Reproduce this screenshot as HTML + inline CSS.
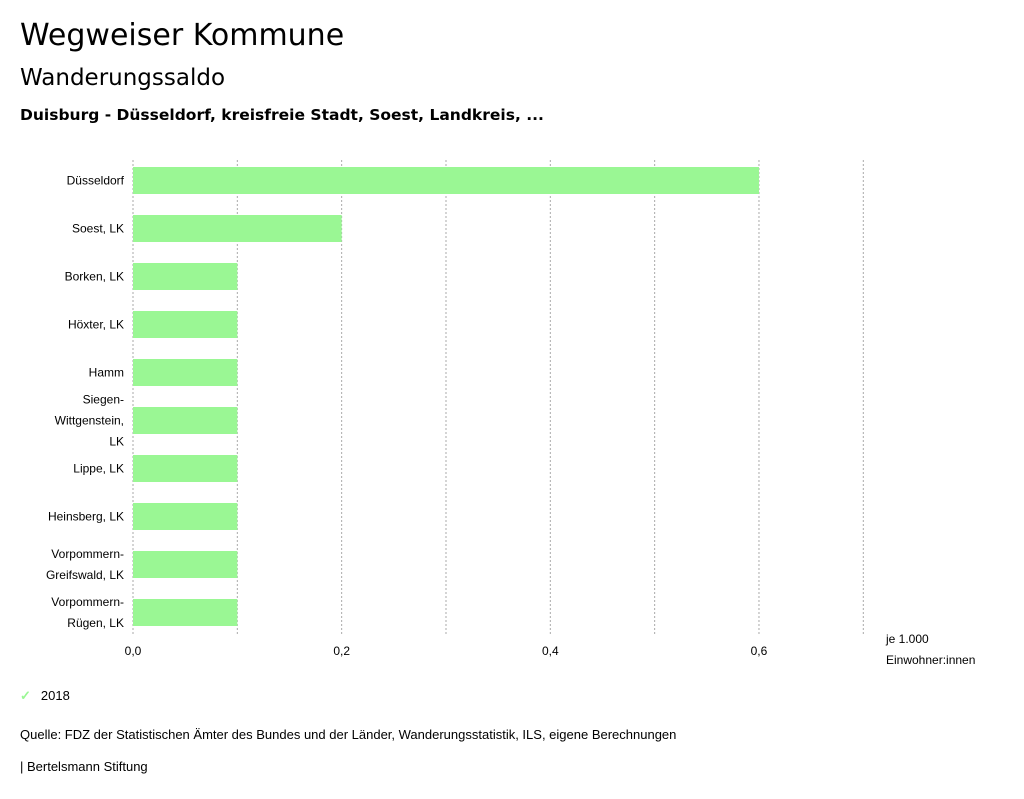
<!DOCTYPE html>
<html><head><meta charset="utf-8"><style>
body{margin:0;background:#fff;font-family:"Liberation Sans",sans-serif;color:#000;}
.wrap{position:relative;width:1024px;height:799px;overflow:hidden;}
.t{position:absolute;left:20px;white-space:nowrap;}
.dj{font-family:"DejaVu Sans",sans-serif;}
</style></head><body>
<div class="wrap">
<div class="t dj" style="top:18px;font-size:30px;">Wegweiser Kommune</div>
<div class="t dj" style="top:65px;font-size:23px;">Wanderungssaldo</div>
<div class="t dj" style="top:106px;font-size:15.5px;font-weight:bold;">Duisburg - Düsseldorf, kreisfreie Stadt, Soest, Landkreis, ...</div>
<svg id="chart" width="1024" height="680" style="position:absolute;left:0;top:0"></svg>
<div class="t" style="top:688px;font-size:13px;"><span style="color:#9af794;margin-right:10px;font-weight:bold;">✓</span>2018</div>
<div class="t" style="top:727px;font-size:13px;">Quelle: FDZ der Statistischen Ämter des Bundes und der Länder, Wanderungsstatistik, ILS, eigene Berechnungen</div>
<div class="t" style="top:759px;font-size:13px;">| Bertelsmann Stiftung</div>
</div>
<script>
const categories=[["Düsseldorf"],["Soest, LK"],["Borken, LK"],["Höxter, LK"],["Hamm"],["Siegen-","Wittgenstein,","LK"],["Lippe, LK"],["Heinsberg, LK"],["Vorpommern-","Greifswald, LK"],["Vorpommern-","Rügen, LK"]];
const values=[0.6,0.2,0.1,0.1,0.1,0.1,0.1,0.1,0.1,0.1];
const tickValues=[0,0.2,0.4,0.6];
const tickLabels=["0,0","0,2","0,4","0,6"];
const gridValues=[0,0.1,0.2,0.3,0.4,0.5,0.6,0.7];
const NS="http://www.w3.org/2000/svg",svg=document.getElementById("chart");
const x=v=>133+v*1043.3;
const yc=i=>180.5+i*48;
function mk(t,a){const e=document.createElementNS(NS,t);for(const k in a)e.setAttribute(k,a[k]);svg.appendChild(e);return e;}
gridValues.forEach(v=>{const l=mk("line",{x1:x(v),x2:x(v),y1:160,y2:636,stroke:"#aaa","stroke-dasharray":"2,2","stroke-width":1});

});
tickValues.forEach((v,i)=>{const t=mk("text",{x:x(v),y:655,"font-size":12,"text-anchor":"middle"});t.textContent=tickLabels[i];

});
values.forEach((v,i)=>{const r=mk("rect",{x:x(0),y:yc(i)-13.5,width:x(v)-x(0),height:27,fill:"#9af794"});


const lines=categories[i];const lh=21;const y0=yc(i)+4-(lines.length-1)*lh/2;
lines.forEach((s,j)=>{const t=mk("text",{x:124,y:y0+j*lh,"font-size":12,"text-anchor":"end"});t.textContent=s;

});});
const u1=mk("text",{x:886,y:643,"font-size":12});u1.textContent="je 1.000";


const u2=mk("text",{x:886,y:664,"font-size":12});u2.textContent="Einwohner:innen";


</script>
</body></html>
